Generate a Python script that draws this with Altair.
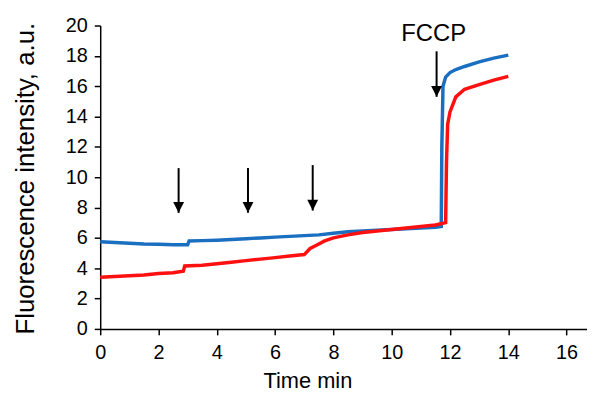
import altair as alt
import pandas as pd

# ---- data ----
blue_t = [0, 0.5, 1, 1.5, 2, 2.5, 3.0, 3.05, 3.5, 4, 4.5, 5, 5.5, 6, 6.5, 7, 7.5, 8, 8.5, 9,
          9.5, 10, 10.5, 11, 11.5, 11.7, 11.72, 11.76, 11.85, 12.0, 12.2, 12.5, 13, 13.5, 14.0]
blue_v = [5.75, 5.7, 5.65, 5.6, 5.58, 5.55, 5.55, 5.8, 5.82, 5.85, 5.9, 5.95, 6.0, 6.05, 6.1,
          6.15, 6.2, 6.3, 6.4, 6.45, 6.5, 6.55, 6.6, 6.65, 6.7, 6.75, 12.0, 16.0, 16.6, 16.9,
          17.1, 17.3, 17.6, 17.85, 18.05]

red_t = [0, 0.5, 1, 1.5, 2, 2.5, 2.85, 2.9, 3.5, 4, 4.5, 5, 5.5, 6, 6.5, 7.0, 7.2, 7.4, 7.7,
         8.0, 8.5, 9, 9.5, 10, 10.5, 11, 11.5, 11.85, 11.88, 11.92, 12.0, 12.2, 12.5, 13, 13.5, 14.0]
red_v = [3.4, 3.45, 3.5, 3.55, 3.65, 3.7, 3.8, 4.15, 4.2, 4.3, 4.4, 4.5, 4.6, 4.7, 4.8, 4.9,
         5.3, 5.5, 5.8, 6.0, 6.2, 6.35, 6.45, 6.55, 6.65, 6.75, 6.85, 7.0, 11.0, 13.5, 14.3,
         15.3, 15.8, 16.1, 16.4, 16.65]

arrow_t = [2.69, 5.07, 7.29, 11.54]
arrow_top = [10.6, 10.6, 10.8, 18.3]
arrow_tip = [7.65, 7.65, 7.8, 15.3]

label_text = ["FCCP"]
label_t = [11.44]
label_v = [18.95]

x_ticks = [0, 2, 4, 6, 8, 10, 12, 14, 16]
y_ticks = [0, 2, 4, 6, 8, 10, 12, 14, 16, 18, 20]

FONT = "Liberation Sans"

blue_df = pd.DataFrame({"t": blue_t, "v": blue_v})
red_df = pd.DataFrame({"t": red_t, "v": red_v})
arrows_df = pd.DataFrame({"t": arrow_t, "top": arrow_top, "tip": arrow_tip})
label_df = pd.DataFrame({"t": label_t, "v": label_v, "txt": label_text})

xscale = alt.Scale(domain=[0, 16.7], nice=False, zero=False)
yscale = alt.Scale(domain=[0, 20], nice=False)

xaxis = alt.Axis(values=x_ticks, title="Time min", grid=False, domainColor="black",
                 domainWidth=1.5, tickColor="black", tickWidth=1.5, tickSize=6,
                 labelFont=FONT, labelFontSize=20, labelColor="black", labelPadding=8,
                 labelFlush=False, labelOverlap=False,
                 titleFont=FONT, titleFontSize=22, titleFontWeight="normal", titleColor="black",
                 titleX=209, titleY=52, titleBaseline="middle", titleAlign="center")
yaxis = alt.Axis(values=y_ticks, title="Fluorescence intensity, a.u.", grid=False,
                 domainColor="black", domainWidth=1.5, tickColor="black", tickWidth=1.5,
                 tickSize=6, labelFont=FONT, labelFontSize=20, labelColor="black",
                 labelPadding=7, labelFlush=False, labelOverlap=False,
                 titleFont=FONT, titleFontSize=26, titleFontWeight="normal", titleColor="black",
                 titleX=-75, titleY=154, titleAngle=-90, titleBaseline="middle",
                 titleAlign="center")

blue_line = alt.Chart(blue_df).mark_line(color="#1a6fc0", strokeWidth=3.5).encode(
    x=alt.X("t:Q", scale=xscale, axis=xaxis),
    y=alt.Y("v:Q", scale=yscale, axis=yaxis),
)
red_line = alt.Chart(red_df).mark_line(color="#ff1010", strokeWidth=3.5).encode(
    x=alt.X("t:Q", scale=xscale, axis=xaxis),
    y=alt.Y("v:Q", scale=yscale, axis=yaxis),
)
shafts = alt.Chart(arrows_df).mark_rule(color="black", strokeWidth=2).encode(
    x=alt.X("t:Q", scale=xscale, axis=xaxis),
    y=alt.Y("top:Q", scale=yscale, axis=yaxis),
    y2="tip:Q",
)
heads = alt.Chart(arrows_df).mark_point(
    shape="M-0.5,-1 L0.5,-1 L0,0 Z", filled=True, color="black", opacity=1, size=484,
    strokeWidth=0,
).encode(
    x=alt.X("t:Q", scale=xscale, axis=xaxis),
    y=alt.Y("tip:Q", scale=yscale, axis=yaxis),
)
label = alt.Chart(label_df).mark_text(font=FONT, fontSize=24, color="black",
                                      align="center", baseline="alphabetic").encode(
    x=alt.X("t:Q", scale=xscale, axis=xaxis),
    y=alt.Y("v:Q", scale=yscale, axis=yaxis),
    text="txt:N",
)

chart = alt.layer(blue_line, red_line, shafts, heads, label).properties(
    width=491, height=306,
    autosize=alt.AutoSizeParams(type="none"),
    padding={"left": 93, "top": 16, "right": 0, "bottom": 67},
    background="white",
).configure_view(stroke=None)

chart.save("out.html", embed_options={"renderer": "svg", "actions": False})
